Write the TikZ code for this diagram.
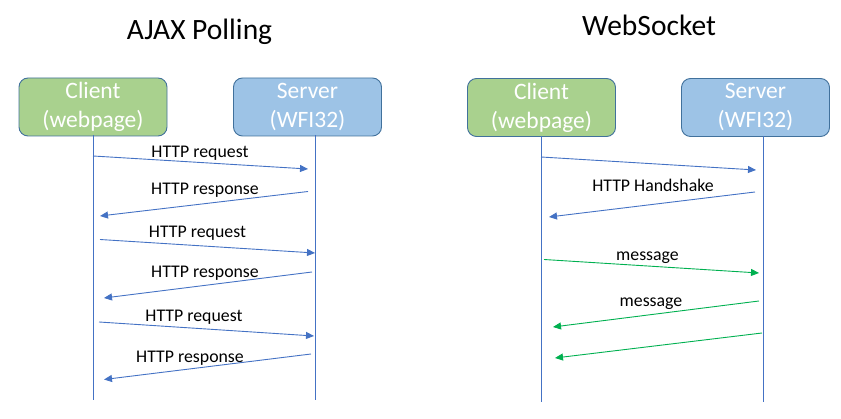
\documentclass[tikz,border=0pt]{standalone}
\usepackage{fontspec}
\setmainfont{Carlito}
\usetikzlibrary{arrows.meta}
\definecolor{callblue}{HTML}{4472C4}
\definecolor{msggreen}{HTML}{00B050}
\definecolor{clientfill}{HTML}{A9D18E}
\definecolor{serverfill}{HTML}{9DC3E6}
\definecolor{boxedge}{HTML}{41719C}
\def\thickness{0.9pt}
\tikzset{party/.style={draw=boxedge, line width=\thickness, rounded corners=9pt,
    minimum width=148pt, minimum height=58pt, align=center, text=white,
    font=\fontsize{23.5}{29}\selectfont}}
\tikzset{client/.style={party, fill=clientfill}}
\tikzset{server/.style={party, fill=serverfill}}
\tikzset{lifeline/.style={draw=callblue, line width=\thickness}}
\tikzset{call/.style={draw=callblue, line width=\thickness,
    -{Triangle[length=8pt,width=7pt]}}}
\tikzset{message/.style={call, draw=msggreen}}
\tikzset{msglabel/.style={inner sep=0pt, anchor=base, font=\fontsize{17.8}{21}\selectfont}}
\tikzset{heading/.style={inner sep=0pt, anchor=base, font=\fontsize{29.5}{35}\selectfont}}

\begin{document}
\begin{tikzpicture}[x=1pt, y=-1pt]
\useasboundingbox (0,0) rectangle (841,419);

% AJAX polling
\node[heading] (ajax) at (199.5, 40) {AJAX Polling};
\node[client] (c1) at (93, 107) {Client\\(webpage)};
\node[server] (s1) at (307.5, 107) {Server\\(WFI32)};
\coordinate (c1top) at (93, 135);
\coordinate (c1end) at (93, 400);
\coordinate (s1top) at (315, 135);
\coordinate (s1end) at (315, 400);
\draw [lifeline] (c1top) -- (c1end);
\draw [lifeline] (s1top) -- (s1end);

\coordinate (a1) at (93, 156);
\coordinate (b1) at (308, 169);
\coordinate (a2) at (308, 191.5);
\coordinate (b2) at (100, 216);
\coordinate (a3) at (100, 239.5);
\coordinate (b3) at (315, 253);
\coordinate (a4) at (312, 272);
\coordinate (b4) at (104, 298);
\coordinate (a5) at (99, 322);
\coordinate (b5) at (314, 336);
\coordinate (a6) at (311, 354);
\coordinate (b6) at (104, 379.5);

\draw [call] (a1) -- (b1);
\draw [call] (a2) -- (b2);
\draw [call] (a3) -- (b3);
\draw [call] (a4) -- (b4);
\draw [call] (a5) -- (b5);
\draw [call] (a6) -- (b6);

\node[msglabel] (req1) at (200, 158) {HTTP request};
\node[msglabel] (resp1) at (205, 195) {HTTP response};
\node[msglabel] (req2) at (197.5, 237.5) {HTTP request};
\node[msglabel] (resp2) at (205, 278) {HTTP response};
\node[msglabel] (req3) at (194, 321.5) {HTTP request};
\node[msglabel] (resp3) at (190, 362.5) {HTTP response};

% WebSocket
\node[heading] (ws) at (649, 36) {WebSocket};
\node[client] (c2) at (541.5, 107.5) {Client\\(webpage)};
\node[server] (s2) at (755.5, 107.5) {Server\\(WFI32)};
\coordinate (c2top) at (541, 136);
\coordinate (c2end) at (541, 402);
\coordinate (s2top) at (763, 136);
\coordinate (s2end) at (763, 402);
\draw [lifeline] (c2top) -- (c2end);
\draw [lifeline] (s2top) -- (s2end);

\coordinate (p1) at (541, 157);
\coordinate (q1) at (756, 170);
\coordinate (p2) at (755, 192);
\coordinate (q2) at (549, 217);
\coordinate (p3) at (544, 259.5);
\coordinate (q3) at (759, 273);
\coordinate (p4) at (759, 301);
\coordinate (q4) at (553, 327);
\coordinate (p5) at (762, 333);
\coordinate (q5) at (555, 358);

\draw [call] (p1) -- (q1);
\draw [call] (p2) -- (q2);
\draw [message] (p3) -- (q3);
\draw [message] (p4) -- (q4);
\draw [message] (p5) -- (q5);

\node[msglabel] (shake) at (653, 192) {HTTP Handshake};
\node[msglabel] (msg1) at (647.5, 260.5) {message};
\node[msglabel] (msg2) at (651, 306.5) {message};

\end{tikzpicture}
\end{document}
